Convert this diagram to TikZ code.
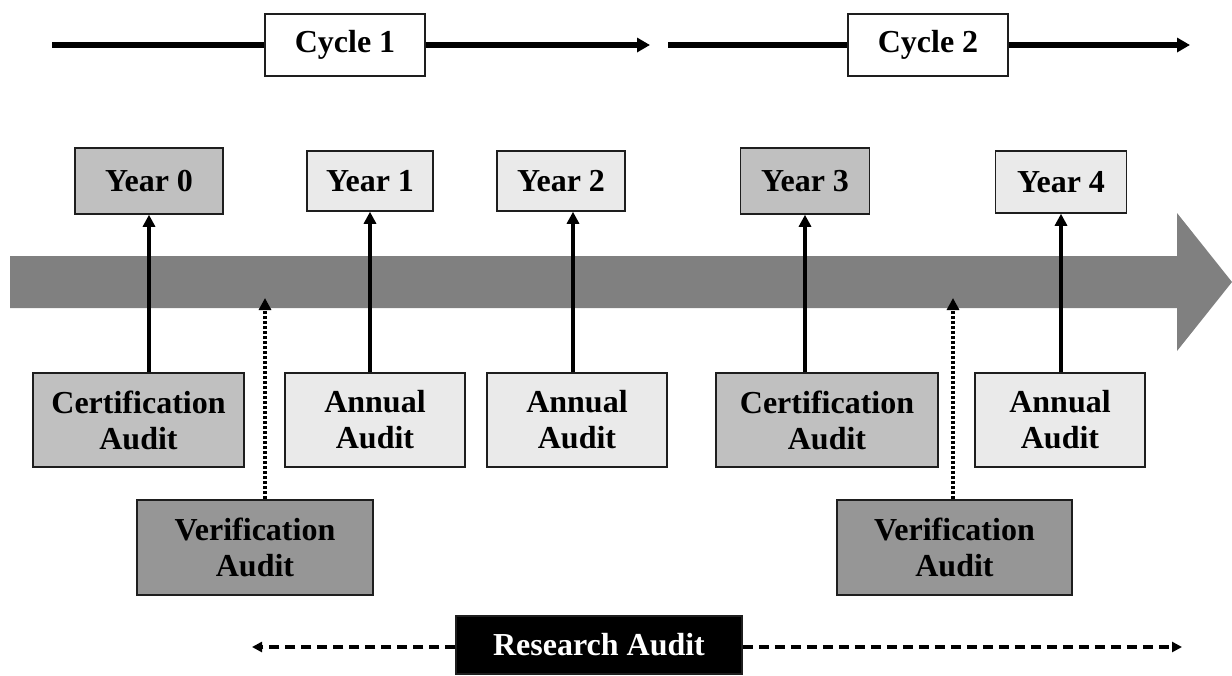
\documentclass[tikz,border=0pt]{standalone}
\usepackage{fontspec}
\setmainfont{Liberation Serif}
\usepackage{xcolor}
\usepackage{tikz}
\usetikzlibrary{arrows.meta}
\definecolor{lightbox}{RGB}{234,234,234}
\definecolor{midbox}{RGB}{192,192,192}
\definecolor{darkbox}{RGB}{150,150,150}
\definecolor{timeline}{RGB}{128,128,128}
\definecolor{edge}{RGB}{30,30,30}
\tikzset{
    box/.style={rectangle, draw=edge, line width=1.5pt, inner sep=0pt, text centered, align=center, font=\fontsize{32}{36}\selectfont\bfseries},
    cyclebox/.style={box, fill=white, minimum width=160pt, minimum height=62pt},
    yearbox/.style={box, minimum height=60pt},
    auditbox/.style={box, minimum height=94pt},
    phasearrow/.style={-{Triangle[length=13pt,width=14pt]}, line width=6pt},
    uparrow/.style={-{Triangle[length=12pt,width=12pt]}, line width=3.5pt},
    dotarrow/.style={-{Triangle[length=12pt,width=12pt]}, line width=3.5pt, dash pattern=on 3pt off 2pt},
    dasharrow/.style={-{Triangle[length=10pt,width=10pt]}, line width=3.5pt, dash pattern=on 10pt off 6pt}
}

\begin{document}
\begin{tikzpicture}[x=1pt, y=-1pt]
    \useasboundingbox (0,0) rectangle (1232,675);

    % Time line
    \fill[timeline] (10,256) -- (1177,256) -- (1177,213) -- (1232,282) -- (1177,351) -- (1177,308) -- (10,308) -- cycle;

    % Cycles
    \node[cyclebox] (cyc1) at (345,45) {Cycle 1};
    \node[cyclebox] (cyc2) at (928,45) {Cycle 2};
    \coordinate (c1start) at (52,45);
    \coordinate (c1end) at (650,45);
    \coordinate (c2start) at (668,45);
    \coordinate (c2end) at (1190,45);
    \draw[line width=6pt] (c1start) -- (cyc1);
    \draw[phasearrow] (cyc1) -- (c1end);
    \draw[line width=6pt] (c2start) -- (cyc2);
    \draw[phasearrow] (cyc2) -- (c2end);

    % Years
    \node[yearbox, fill=midbox, minimum width=148pt, minimum height=66pt] (yr0) at (149,181) {Year 0};
    \node[yearbox, fill=lightbox, minimum width=126pt] (yr1) at (370,181) {Year 1};
    \node[yearbox, fill=lightbox, minimum width=128pt] (yr2) at (561,181) {Year 2};
    \node[yearbox, fill=midbox, minimum width=129pt, minimum height=66pt] (yr3) at (805,181) {Year 3};
    \node[yearbox, fill=lightbox, minimum width=131pt, minimum height=62pt] (yr4) at (1061,182) {Year 4};

    % Audits
    \node[auditbox, fill=midbox, minimum width=211pt] (cert1) at (138.5,420) {Certification\\Audit};
    \node[auditbox, fill=lightbox, minimum width=180pt] (ann1) at (375,420) {Annual\\Audit};
    \node[auditbox, fill=lightbox, minimum width=180pt] (ann2) at (577,420) {Annual\\Audit};
    \node[auditbox, fill=midbox, minimum width=222pt] (cert2) at (827,420) {Certification\\Audit};
    \node[auditbox, fill=lightbox, minimum width=170pt] (ann3) at (1060,420) {Annual\\Audit};
    \node[auditbox, fill=darkbox, minimum width=236pt, minimum height=95pt] (ver1) at (255,547.5) {Verification\\Audit};
    \node[auditbox, fill=darkbox, minimum width=235pt, minimum height=95pt] (ver2) at (954.5,547.5) {Verification\\Audit};

    % Audit to year
    \coordinate (ax2) at (573,0);
    \draw[uparrow] (cert1.north -| yr0.south) -- (yr0.south);
    \draw[uparrow] (ann1.north -| yr1.south) -- (yr1.south);
    \draw[uparrow] (ann2.north -| ax2) -- (yr2.south -| ax2);
    \draw[uparrow, line width=4.5pt] (cert2.north -| yr3.south) -- (yr3.south);
    \draw[uparrow] (ann3.north -| yr4.south) -- (yr4.south);

    % Verification to time line
    \coordinate (v1tip) at (265,298);
    \coordinate (v2tip) at (953,298);
    \draw[dotarrow] (ver1.north -| v1tip) -- (v1tip);
    \draw[dotarrow] (ver2.north -| v2tip) -- (v2tip);

    % Research audit
    \node[box, fill=black, text=white, minimum width=286pt, minimum height=58pt] (res) at (599,645) {Research Audit};
    \coordinate (rleft) at (252,647);
    \coordinate (rright) at (1182,647);
    \draw[dasharrow] (res.west |- rleft) -- (rleft);
    \draw[dasharrow] (res.east |- rright) -- (rright);

\end{tikzpicture}
\end{document}
